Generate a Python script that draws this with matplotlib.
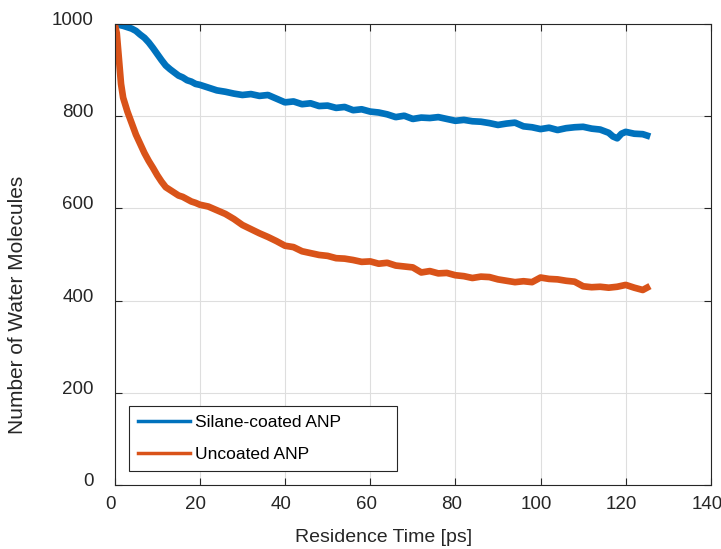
import matplotlib.pyplot as plt
import matplotlib as mpl
from matplotlib.transforms import ScaledTranslation

mpl.rcParams["font.family"] = ["Liberation Sans", "DejaVu Sans"]

# 실란 코팅 ANP (파랑)
t_coated = [0, 1, 2, 3, 4, 5, 6, 7, 8, 9, 10, 11, 12, 13, 14, 15, 16, 17, 18, 19,
            20, 22, 24, 26, 28, 30, 32, 34, 36, 38, 40, 42, 44, 46, 48, 50, 52, 54,
            56, 58, 60, 62, 64, 66, 68, 70, 72, 74, 76, 78, 80, 82, 84, 86, 88, 90,
            92, 94, 96, 98, 100, 102, 104, 106, 108, 110, 112, 114, 116, 117, 118,
            119, 120, 122, 124, 125]
n_coated = [1000, 998, 996, 993, 990, 985, 977, 970, 960, 948, 935, 922, 910, 902,
            895, 888, 884, 878, 875, 870, 868, 862, 856, 853, 849, 846, 848, 844,
            846, 838, 830, 832, 826, 828, 822, 823, 818, 820, 813, 815, 810, 808,
            804, 798, 801, 794, 797, 796, 798, 794, 790, 792, 789, 788, 785, 781,
            784, 786, 778, 776, 772, 775, 770, 774, 776, 777, 773, 771, 764, 756,
            752, 762, 766, 762, 761, 758]

# 코팅 없는 ANP (주황)
t_uncoated = [0, 0.5, 1, 1.5, 2, 3, 4, 5, 6, 7, 8, 9, 10, 11, 12, 13, 14, 15, 16,
              17, 18, 19, 20, 22, 24, 26, 28, 30, 32, 34, 36, 38, 40, 42, 44, 46,
              48, 50, 52, 54, 56, 58, 60, 62, 64, 66, 68, 70, 72, 74, 76, 78, 80,
              82, 84, 86, 88, 90, 92, 94, 96, 98, 100, 102, 104, 106, 108, 110,
              112, 114, 116, 118, 120, 122, 124, 125]
n_uncoated = [1000, 980, 925, 870, 840, 810, 785, 760, 740, 720, 703, 688, 672, 658,
              646, 640, 634, 628, 625, 620, 615, 612, 608, 604, 596, 588, 577, 564,
              555, 546, 538, 529, 519, 516, 507, 503, 499, 497, 492, 491, 488, 484,
              485, 480, 482, 476, 474, 472, 461, 464, 459, 460, 455, 453, 449, 452,
              451, 446, 443, 440, 442, 440, 450, 447, 446, 443, 441, 431, 429, 430,
              428, 430, 434, 428, 423, 428]

fig = plt.figure(figsize=(7.21, 5.49), dpi=100)
ax = fig.add_axes([0.159, 0.1166, 0.827, 0.8397])

ax.plot(t_coated, n_coated, color="#0072BD", lw=4.8, label="Silane-coated ANP",
        solid_joinstyle="round")
ax.plot(t_uncoated, n_uncoated, color="#D95319", lw=4.8, label="Uncoated ANP",
        solid_joinstyle="round")

ax.set_xlim(0, 140)
ax.set_ylim(0, 1000)
ax.set_xticks(range(0, 141, 20))
ax.set_yticks(range(0, 1001, 200))
ax.grid(True, color="#dedede", lw=0.8)
ax.set_axisbelow(True)

for s in ax.spines.values():
    s.set_color("#262626")
    s.set_linewidth(0.8)
ax.tick_params(direction="in", length=5, width=0.8, color="#262626",
               top=True, right=True, labelsize=13.5, labelcolor="#262626")
ax.tick_params(axis="y", pad=15)
ax.tick_params(axis="x", pad=8)

# 눈금 라벨 살짝 이동 (원본 배치 맞춤)
dx = ScaledTranslation(-0.04, 0, fig.dpi_scale_trans)
dy = ScaledTranslation(0, 0.055, fig.dpi_scale_trans)
for tick in ax.xaxis.get_major_ticks():
    tick.label1.set_transform(tick.label1.get_transform() + dx)
for tick in ax.yaxis.get_major_ticks():
    tick.label1.set_transform(tick.label1.get_transform() + dy)

ax.set_xlabel("Residence Time [ps]", fontsize=14, color="#262626")
ax.xaxis.set_label_coords(0.4517, -0.095)
ax.set_ylabel("Number of Water Molecules", fontsize=15, color="#262626")
ax.yaxis.set_label_coords(-0.147, 0.39)

leg = ax.legend(loc="lower left", bbox_to_anchor=(0.024, 0.030, 0.449, 0.14),
                mode="expand", borderaxespad=0, fontsize=12.5, fancybox=False,
                framealpha=1, edgecolor="#262626", borderpad=0.5,
                labelspacing=1.0, handlelength=3.0, handletextpad=0.3)
leg.get_frame().set_linewidth(0.8)
for line in leg.get_lines():
    line.set_linewidth(2.5)

fig.savefig("out.png", dpi=100)
